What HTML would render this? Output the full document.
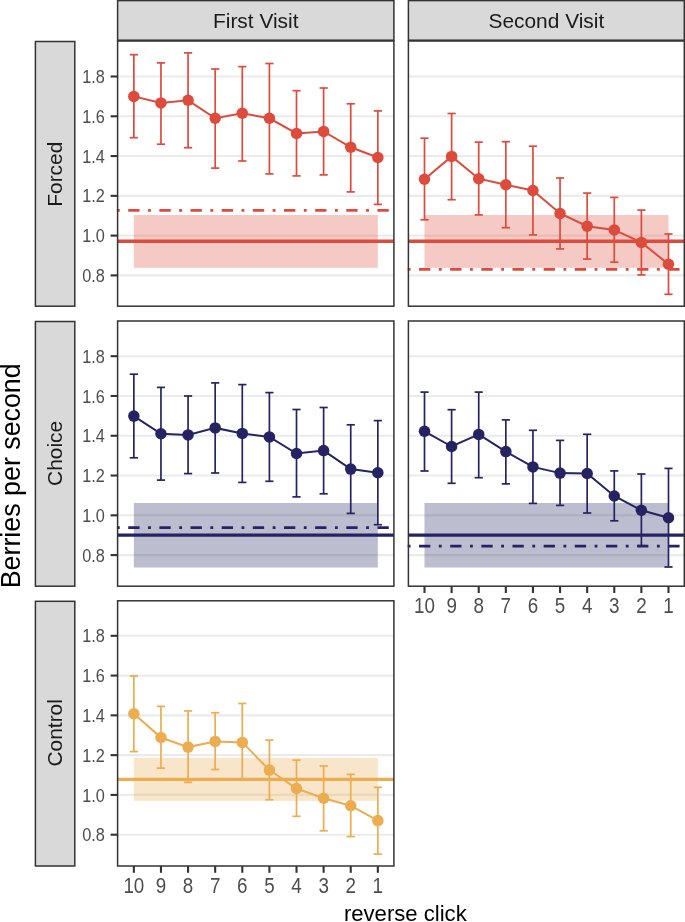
<!DOCTYPE html>
<html><head><meta charset="utf-8"><title>Berries per second</title>
<style>html,body{margin:0;padding:0;background:#fff;overflow:hidden}svg text{font-family:'Liberation Sans',sans-serif}</style>
</head><body>
<svg width="685" height="922" viewBox="0 0 685 922" style="display:block;will-change:transform">
<rect x="0" y="0" width="685" height="922" fill="#FFFFFF"/>
<rect x="117.6" y="0.6" width="276.30" height="39.60" fill="#D9D9D9" stroke="#333333" stroke-width="1.5"/>
<text x="255.75" y="27.6" text-anchor="middle" font-size="20.9" fill="#1A1A1A" style="font-family:'Liberation Sans',sans-serif">First Visit</text>
<rect x="408.4" y="0.6" width="275.90" height="39.60" fill="#D9D9D9" stroke="#333333" stroke-width="1.5"/>
<text x="546.35" y="27.6" text-anchor="middle" font-size="20.9" fill="#1A1A1A" style="font-family:'Liberation Sans',sans-serif">Second Visit</text>
<rect x="35.4" y="41.50" width="39.40" height="264.70" fill="#D9D9D9" stroke="#333333" stroke-width="1.5"/>
<text x="0" y="0" transform="translate(62.2 174.20) rotate(-90)" text-anchor="middle" font-size="20.9" fill="#1A1A1A" style="font-family:'Liberation Sans',sans-serif">Forced</text>
<rect x="117.6" y="41.0" width="276.30" height="265.20" fill="#FFFFFF"/>
<line x1="117.6" x2="393.9" y1="275.40" y2="275.40" stroke="#EBEBEB" stroke-width="2.1"/>
<line x1="117.6" x2="393.9" y1="235.62" y2="235.62" stroke="#EBEBEB" stroke-width="2.1"/>
<line x1="117.6" x2="393.9" y1="195.84" y2="195.84" stroke="#EBEBEB" stroke-width="2.1"/>
<line x1="117.6" x2="393.9" y1="156.06" y2="156.06" stroke="#EBEBEB" stroke-width="2.1"/>
<line x1="117.6" x2="393.9" y1="116.28" y2="116.28" stroke="#EBEBEB" stroke-width="2.1"/>
<line x1="117.6" x2="393.9" y1="76.50" y2="76.50" stroke="#EBEBEB" stroke-width="2.1"/>
<rect x="133.85" y="215.0" width="243.99" height="52.80" fill="#DD4B3D" fill-opacity="0.3"/>
<line x1="117.6" x2="393.9" y1="241.3" y2="241.3" stroke="#DD4B3D" stroke-width="3.4"/>
<line x1="116.89999999999999" x2="393.9" y1="210.4" y2="210.4" stroke="#DD4B3D" stroke-width="2.75" stroke-dasharray="2.832 8.496 11.328 8.496"/>
<line x1="133.85" x2="133.85" y1="54.7" y2="137.7" stroke="#DD4B3D" stroke-width="1.7"/>
<line x1="129.75" x2="137.95" y1="54.7" y2="54.7" stroke="#DD4B3D" stroke-width="1.7"/>
<line x1="129.75" x2="137.95" y1="137.7" y2="137.7" stroke="#DD4B3D" stroke-width="1.7"/>
<line x1="160.96" x2="160.96" y1="62.9" y2="144.2" stroke="#DD4B3D" stroke-width="1.7"/>
<line x1="156.86" x2="165.06" y1="62.9" y2="62.9" stroke="#DD4B3D" stroke-width="1.7"/>
<line x1="156.86" x2="165.06" y1="144.2" y2="144.2" stroke="#DD4B3D" stroke-width="1.7"/>
<line x1="188.07" x2="188.07" y1="52.9" y2="147.7" stroke="#DD4B3D" stroke-width="1.7"/>
<line x1="183.97" x2="192.17" y1="52.9" y2="52.9" stroke="#DD4B3D" stroke-width="1.7"/>
<line x1="183.97" x2="192.17" y1="147.7" y2="147.7" stroke="#DD4B3D" stroke-width="1.7"/>
<line x1="215.18" x2="215.18" y1="69.0" y2="168.1" stroke="#DD4B3D" stroke-width="1.7"/>
<line x1="211.08" x2="219.28" y1="69.0" y2="69.0" stroke="#DD4B3D" stroke-width="1.7"/>
<line x1="211.08" x2="219.28" y1="168.1" y2="168.1" stroke="#DD4B3D" stroke-width="1.7"/>
<line x1="242.29" x2="242.29" y1="66.6" y2="161.0" stroke="#DD4B3D" stroke-width="1.7"/>
<line x1="238.19" x2="246.39" y1="66.6" y2="66.6" stroke="#DD4B3D" stroke-width="1.7"/>
<line x1="238.19" x2="246.39" y1="161.0" y2="161.0" stroke="#DD4B3D" stroke-width="1.7"/>
<line x1="269.40" x2="269.40" y1="63.5" y2="173.9" stroke="#DD4B3D" stroke-width="1.7"/>
<line x1="265.30" x2="273.50" y1="63.5" y2="63.5" stroke="#DD4B3D" stroke-width="1.7"/>
<line x1="265.30" x2="273.50" y1="173.9" y2="173.9" stroke="#DD4B3D" stroke-width="1.7"/>
<line x1="296.51" x2="296.51" y1="90.7" y2="175.9" stroke="#DD4B3D" stroke-width="1.7"/>
<line x1="292.41" x2="300.61" y1="90.7" y2="90.7" stroke="#DD4B3D" stroke-width="1.7"/>
<line x1="292.41" x2="300.61" y1="175.9" y2="175.9" stroke="#DD4B3D" stroke-width="1.7"/>
<line x1="323.62" x2="323.62" y1="88.0" y2="174.9" stroke="#DD4B3D" stroke-width="1.7"/>
<line x1="319.52" x2="327.72" y1="88.0" y2="88.0" stroke="#DD4B3D" stroke-width="1.7"/>
<line x1="319.52" x2="327.72" y1="174.9" y2="174.9" stroke="#DD4B3D" stroke-width="1.7"/>
<line x1="350.73" x2="350.73" y1="103.8" y2="191.9" stroke="#DD4B3D" stroke-width="1.7"/>
<line x1="346.63" x2="354.83" y1="103.8" y2="103.8" stroke="#DD4B3D" stroke-width="1.7"/>
<line x1="346.63" x2="354.83" y1="191.9" y2="191.9" stroke="#DD4B3D" stroke-width="1.7"/>
<line x1="377.84" x2="377.84" y1="110.9" y2="204.4" stroke="#DD4B3D" stroke-width="1.7"/>
<line x1="373.74" x2="381.94" y1="110.9" y2="110.9" stroke="#DD4B3D" stroke-width="1.7"/>
<line x1="373.74" x2="381.94" y1="204.4" y2="204.4" stroke="#DD4B3D" stroke-width="1.7"/>
<polyline points="133.85,96.4 160.96,102.9 188.07,100.3 215.18,118.3 242.29,113.2 269.40,118.3 296.51,133.4 323.62,131.4 350.73,147.3 377.84,157.5" fill="none" stroke="#DD4B3D" stroke-width="2.0"/>
<circle cx="133.85" cy="96.4" r="5.75" fill="#DD4B3D"/>
<circle cx="160.96" cy="102.9" r="5.75" fill="#DD4B3D"/>
<circle cx="188.07" cy="100.3" r="5.75" fill="#DD4B3D"/>
<circle cx="215.18" cy="118.3" r="5.75" fill="#DD4B3D"/>
<circle cx="242.29" cy="113.2" r="5.75" fill="#DD4B3D"/>
<circle cx="269.40" cy="118.3" r="5.75" fill="#DD4B3D"/>
<circle cx="296.51" cy="133.4" r="5.75" fill="#DD4B3D"/>
<circle cx="323.62" cy="131.4" r="5.75" fill="#DD4B3D"/>
<circle cx="350.73" cy="147.3" r="5.75" fill="#DD4B3D"/>
<circle cx="377.84" cy="157.5" r="5.75" fill="#DD4B3D"/>
<rect x="117.6" y="41.0" width="276.30" height="265.20" fill="none" stroke="#333333" stroke-width="1.5"/>
<line x1="110.6" x2="117.6" y1="275.40" y2="275.40" stroke="#333333" stroke-width="2.1"/>
<text x="0" y="0" transform="translate(104.8 282.00) scale(1 1.10)" text-anchor="end" font-size="16.3" fill="#4D4D4D" style="font-family:'Liberation Sans',sans-serif">0.8</text>
<line x1="110.6" x2="117.6" y1="235.62" y2="235.62" stroke="#333333" stroke-width="2.1"/>
<text x="0" y="0" transform="translate(104.8 242.22) scale(1 1.10)" text-anchor="end" font-size="16.3" fill="#4D4D4D" style="font-family:'Liberation Sans',sans-serif">1.0</text>
<line x1="110.6" x2="117.6" y1="195.84" y2="195.84" stroke="#333333" stroke-width="2.1"/>
<text x="0" y="0" transform="translate(104.8 202.44) scale(1 1.10)" text-anchor="end" font-size="16.3" fill="#4D4D4D" style="font-family:'Liberation Sans',sans-serif">1.2</text>
<line x1="110.6" x2="117.6" y1="156.06" y2="156.06" stroke="#333333" stroke-width="2.1"/>
<text x="0" y="0" transform="translate(104.8 162.66) scale(1 1.10)" text-anchor="end" font-size="16.3" fill="#4D4D4D" style="font-family:'Liberation Sans',sans-serif">1.4</text>
<line x1="110.6" x2="117.6" y1="116.28" y2="116.28" stroke="#333333" stroke-width="2.1"/>
<text x="0" y="0" transform="translate(104.8 122.88) scale(1 1.10)" text-anchor="end" font-size="16.3" fill="#4D4D4D" style="font-family:'Liberation Sans',sans-serif">1.6</text>
<line x1="110.6" x2="117.6" y1="76.50" y2="76.50" stroke="#333333" stroke-width="2.1"/>
<text x="0" y="0" transform="translate(104.8 83.10) scale(1 1.10)" text-anchor="end" font-size="16.3" fill="#4D4D4D" style="font-family:'Liberation Sans',sans-serif">1.8</text>
<rect x="408.4" y="41.0" width="275.90" height="265.20" fill="#FFFFFF"/>
<line x1="408.4" x2="684.3" y1="275.40" y2="275.40" stroke="#EBEBEB" stroke-width="2.1"/>
<line x1="408.4" x2="684.3" y1="235.62" y2="235.62" stroke="#EBEBEB" stroke-width="2.1"/>
<line x1="408.4" x2="684.3" y1="195.84" y2="195.84" stroke="#EBEBEB" stroke-width="2.1"/>
<line x1="408.4" x2="684.3" y1="156.06" y2="156.06" stroke="#EBEBEB" stroke-width="2.1"/>
<line x1="408.4" x2="684.3" y1="116.28" y2="116.28" stroke="#EBEBEB" stroke-width="2.1"/>
<line x1="408.4" x2="684.3" y1="76.50" y2="76.50" stroke="#EBEBEB" stroke-width="2.1"/>
<rect x="424.50" y="215.0" width="243.99" height="52.80" fill="#DD4B3D" fill-opacity="0.3"/>
<line x1="408.4" x2="684.3" y1="241.3" y2="241.3" stroke="#DD4B3D" stroke-width="3.4"/>
<line x1="407.7" x2="684.3" y1="269.45" y2="269.45" stroke="#DD4B3D" stroke-width="2.75" stroke-dasharray="2.832 8.496 11.328 8.496"/>
<line x1="424.50" x2="424.50" y1="138.2" y2="219.8" stroke="#DD4B3D" stroke-width="1.7"/>
<line x1="420.40" x2="428.60" y1="138.2" y2="138.2" stroke="#DD4B3D" stroke-width="1.7"/>
<line x1="420.40" x2="428.60" y1="219.8" y2="219.8" stroke="#DD4B3D" stroke-width="1.7"/>
<line x1="451.61" x2="451.61" y1="113.5" y2="199.7" stroke="#DD4B3D" stroke-width="1.7"/>
<line x1="447.51" x2="455.71" y1="113.5" y2="113.5" stroke="#DD4B3D" stroke-width="1.7"/>
<line x1="447.51" x2="455.71" y1="199.7" y2="199.7" stroke="#DD4B3D" stroke-width="1.7"/>
<line x1="478.72" x2="478.72" y1="142.1" y2="214.9" stroke="#DD4B3D" stroke-width="1.7"/>
<line x1="474.62" x2="482.82" y1="142.1" y2="142.1" stroke="#DD4B3D" stroke-width="1.7"/>
<line x1="474.62" x2="482.82" y1="214.9" y2="214.9" stroke="#DD4B3D" stroke-width="1.7"/>
<line x1="505.83" x2="505.83" y1="141.7" y2="227.7" stroke="#DD4B3D" stroke-width="1.7"/>
<line x1="501.73" x2="509.93" y1="141.7" y2="141.7" stroke="#DD4B3D" stroke-width="1.7"/>
<line x1="501.73" x2="509.93" y1="227.7" y2="227.7" stroke="#DD4B3D" stroke-width="1.7"/>
<line x1="532.94" x2="532.94" y1="146.2" y2="234.9" stroke="#DD4B3D" stroke-width="1.7"/>
<line x1="528.84" x2="537.04" y1="146.2" y2="146.2" stroke="#DD4B3D" stroke-width="1.7"/>
<line x1="528.84" x2="537.04" y1="234.9" y2="234.9" stroke="#DD4B3D" stroke-width="1.7"/>
<line x1="560.05" x2="560.05" y1="178.0" y2="248.9" stroke="#DD4B3D" stroke-width="1.7"/>
<line x1="555.95" x2="564.15" y1="178.0" y2="178.0" stroke="#DD4B3D" stroke-width="1.7"/>
<line x1="555.95" x2="564.15" y1="248.9" y2="248.9" stroke="#DD4B3D" stroke-width="1.7"/>
<line x1="587.16" x2="587.16" y1="193.1" y2="259.1" stroke="#DD4B3D" stroke-width="1.7"/>
<line x1="583.06" x2="591.26" y1="193.1" y2="193.1" stroke="#DD4B3D" stroke-width="1.7"/>
<line x1="583.06" x2="591.26" y1="259.1" y2="259.1" stroke="#DD4B3D" stroke-width="1.7"/>
<line x1="614.27" x2="614.27" y1="197.4" y2="262.2" stroke="#DD4B3D" stroke-width="1.7"/>
<line x1="610.17" x2="618.37" y1="197.4" y2="197.4" stroke="#DD4B3D" stroke-width="1.7"/>
<line x1="610.17" x2="618.37" y1="262.2" y2="262.2" stroke="#DD4B3D" stroke-width="1.7"/>
<line x1="641.38" x2="641.38" y1="210.1" y2="274.9" stroke="#DD4B3D" stroke-width="1.7"/>
<line x1="637.28" x2="645.48" y1="210.1" y2="210.1" stroke="#DD4B3D" stroke-width="1.7"/>
<line x1="637.28" x2="645.48" y1="274.9" y2="274.9" stroke="#DD4B3D" stroke-width="1.7"/>
<line x1="668.49" x2="668.49" y1="234.0" y2="294.3" stroke="#DD4B3D" stroke-width="1.7"/>
<line x1="664.39" x2="672.59" y1="234.0" y2="234.0" stroke="#DD4B3D" stroke-width="1.7"/>
<line x1="664.39" x2="672.59" y1="294.3" y2="294.3" stroke="#DD4B3D" stroke-width="1.7"/>
<polyline points="424.50,179.3 451.61,156.4 478.72,178.7 505.83,184.8 532.94,190.5 560.05,213.5 587.16,226.2 614.27,229.9 641.38,242.4 668.49,264.2" fill="none" stroke="#DD4B3D" stroke-width="2.0"/>
<circle cx="424.50" cy="179.3" r="5.75" fill="#DD4B3D"/>
<circle cx="451.61" cy="156.4" r="5.75" fill="#DD4B3D"/>
<circle cx="478.72" cy="178.7" r="5.75" fill="#DD4B3D"/>
<circle cx="505.83" cy="184.8" r="5.75" fill="#DD4B3D"/>
<circle cx="532.94" cy="190.5" r="5.75" fill="#DD4B3D"/>
<circle cx="560.05" cy="213.5" r="5.75" fill="#DD4B3D"/>
<circle cx="587.16" cy="226.2" r="5.75" fill="#DD4B3D"/>
<circle cx="614.27" cy="229.9" r="5.75" fill="#DD4B3D"/>
<circle cx="641.38" cy="242.4" r="5.75" fill="#DD4B3D"/>
<circle cx="668.49" cy="264.2" r="5.75" fill="#DD4B3D"/>
<rect x="408.4" y="41.0" width="275.90" height="265.20" fill="none" stroke="#333333" stroke-width="1.5"/>
<rect x="35.4" y="321.50" width="39.40" height="264.70" fill="#D9D9D9" stroke="#333333" stroke-width="1.5"/>
<text x="0" y="0" transform="translate(62.2 453.40) rotate(-90)" text-anchor="middle" font-size="20.9" fill="#1A1A1A" style="font-family:'Liberation Sans',sans-serif">Choice</text>
<rect x="117.6" y="321.0" width="276.30" height="265.20" fill="#FFFFFF"/>
<line x1="117.6" x2="393.9" y1="555.10" y2="555.10" stroke="#EBEBEB" stroke-width="2.1"/>
<line x1="117.6" x2="393.9" y1="515.32" y2="515.32" stroke="#EBEBEB" stroke-width="2.1"/>
<line x1="117.6" x2="393.9" y1="475.54" y2="475.54" stroke="#EBEBEB" stroke-width="2.1"/>
<line x1="117.6" x2="393.9" y1="435.76" y2="435.76" stroke="#EBEBEB" stroke-width="2.1"/>
<line x1="117.6" x2="393.9" y1="395.98" y2="395.98" stroke="#EBEBEB" stroke-width="2.1"/>
<line x1="117.6" x2="393.9" y1="356.20" y2="356.20" stroke="#EBEBEB" stroke-width="2.1"/>
<rect x="133.85" y="503.0" width="243.99" height="64.50" fill="#262363" fill-opacity="0.3"/>
<line x1="117.6" x2="393.9" y1="535.1" y2="535.1" stroke="#262363" stroke-width="3.4"/>
<line x1="116.89999999999999" x2="393.9" y1="527.7" y2="527.7" stroke="#262363" stroke-width="2.75" stroke-dasharray="2.832 8.496 11.328 8.496"/>
<line x1="133.85" x2="133.85" y1="374.2" y2="457.8" stroke="#262363" stroke-width="1.7"/>
<line x1="129.75" x2="137.95" y1="374.2" y2="374.2" stroke="#262363" stroke-width="1.7"/>
<line x1="129.75" x2="137.95" y1="457.8" y2="457.8" stroke="#262363" stroke-width="1.7"/>
<line x1="160.96" x2="160.96" y1="387.4" y2="480.1" stroke="#262363" stroke-width="1.7"/>
<line x1="156.86" x2="165.06" y1="387.4" y2="387.4" stroke="#262363" stroke-width="1.7"/>
<line x1="156.86" x2="165.06" y1="480.1" y2="480.1" stroke="#262363" stroke-width="1.7"/>
<line x1="188.07" x2="188.07" y1="396.0" y2="473.6" stroke="#262363" stroke-width="1.7"/>
<line x1="183.97" x2="192.17" y1="396.0" y2="396.0" stroke="#262363" stroke-width="1.7"/>
<line x1="183.97" x2="192.17" y1="473.6" y2="473.6" stroke="#262363" stroke-width="1.7"/>
<line x1="215.18" x2="215.18" y1="382.9" y2="473.0" stroke="#262363" stroke-width="1.7"/>
<line x1="211.08" x2="219.28" y1="382.9" y2="382.9" stroke="#262363" stroke-width="1.7"/>
<line x1="211.08" x2="219.28" y1="473.0" y2="473.0" stroke="#262363" stroke-width="1.7"/>
<line x1="242.29" x2="242.29" y1="384.6" y2="482.4" stroke="#262363" stroke-width="1.7"/>
<line x1="238.19" x2="246.39" y1="384.6" y2="384.6" stroke="#262363" stroke-width="1.7"/>
<line x1="238.19" x2="246.39" y1="482.4" y2="482.4" stroke="#262363" stroke-width="1.7"/>
<line x1="269.40" x2="269.40" y1="392.6" y2="481.3" stroke="#262363" stroke-width="1.7"/>
<line x1="265.30" x2="273.50" y1="392.6" y2="392.6" stroke="#262363" stroke-width="1.7"/>
<line x1="265.30" x2="273.50" y1="481.3" y2="481.3" stroke="#262363" stroke-width="1.7"/>
<line x1="296.51" x2="296.51" y1="409.5" y2="496.9" stroke="#262363" stroke-width="1.7"/>
<line x1="292.41" x2="300.61" y1="409.5" y2="409.5" stroke="#262363" stroke-width="1.7"/>
<line x1="292.41" x2="300.61" y1="496.9" y2="496.9" stroke="#262363" stroke-width="1.7"/>
<line x1="323.62" x2="323.62" y1="407.5" y2="493.8" stroke="#262363" stroke-width="1.7"/>
<line x1="319.52" x2="327.72" y1="407.5" y2="407.5" stroke="#262363" stroke-width="1.7"/>
<line x1="319.52" x2="327.72" y1="493.8" y2="493.8" stroke="#262363" stroke-width="1.7"/>
<line x1="350.73" x2="350.73" y1="424.8" y2="513.4" stroke="#262363" stroke-width="1.7"/>
<line x1="346.63" x2="354.83" y1="424.8" y2="424.8" stroke="#262363" stroke-width="1.7"/>
<line x1="346.63" x2="354.83" y1="513.4" y2="513.4" stroke="#262363" stroke-width="1.7"/>
<line x1="377.84" x2="377.84" y1="420.6" y2="524.7" stroke="#262363" stroke-width="1.7"/>
<line x1="373.74" x2="381.94" y1="420.6" y2="420.6" stroke="#262363" stroke-width="1.7"/>
<line x1="373.74" x2="381.94" y1="524.7" y2="524.7" stroke="#262363" stroke-width="1.7"/>
<polyline points="133.85,416.1 160.96,433.8 188.07,434.9 215.18,427.9 242.29,433.4 269.40,436.9 296.51,453.5 323.62,450.6 350.73,469.1 377.84,472.8" fill="none" stroke="#262363" stroke-width="2.0"/>
<circle cx="133.85" cy="416.1" r="5.75" fill="#262363"/>
<circle cx="160.96" cy="433.8" r="5.75" fill="#262363"/>
<circle cx="188.07" cy="434.9" r="5.75" fill="#262363"/>
<circle cx="215.18" cy="427.9" r="5.75" fill="#262363"/>
<circle cx="242.29" cy="433.4" r="5.75" fill="#262363"/>
<circle cx="269.40" cy="436.9" r="5.75" fill="#262363"/>
<circle cx="296.51" cy="453.5" r="5.75" fill="#262363"/>
<circle cx="323.62" cy="450.6" r="5.75" fill="#262363"/>
<circle cx="350.73" cy="469.1" r="5.75" fill="#262363"/>
<circle cx="377.84" cy="472.8" r="5.75" fill="#262363"/>
<rect x="117.6" y="321.0" width="276.30" height="265.20" fill="none" stroke="#333333" stroke-width="1.5"/>
<line x1="110.6" x2="117.6" y1="555.10" y2="555.10" stroke="#333333" stroke-width="2.1"/>
<text x="0" y="0" transform="translate(104.8 561.70) scale(1 1.10)" text-anchor="end" font-size="16.3" fill="#4D4D4D" style="font-family:'Liberation Sans',sans-serif">0.8</text>
<line x1="110.6" x2="117.6" y1="515.32" y2="515.32" stroke="#333333" stroke-width="2.1"/>
<text x="0" y="0" transform="translate(104.8 521.92) scale(1 1.10)" text-anchor="end" font-size="16.3" fill="#4D4D4D" style="font-family:'Liberation Sans',sans-serif">1.0</text>
<line x1="110.6" x2="117.6" y1="475.54" y2="475.54" stroke="#333333" stroke-width="2.1"/>
<text x="0" y="0" transform="translate(104.8 482.14) scale(1 1.10)" text-anchor="end" font-size="16.3" fill="#4D4D4D" style="font-family:'Liberation Sans',sans-serif">1.2</text>
<line x1="110.6" x2="117.6" y1="435.76" y2="435.76" stroke="#333333" stroke-width="2.1"/>
<text x="0" y="0" transform="translate(104.8 442.36) scale(1 1.10)" text-anchor="end" font-size="16.3" fill="#4D4D4D" style="font-family:'Liberation Sans',sans-serif">1.4</text>
<line x1="110.6" x2="117.6" y1="395.98" y2="395.98" stroke="#333333" stroke-width="2.1"/>
<text x="0" y="0" transform="translate(104.8 402.58) scale(1 1.10)" text-anchor="end" font-size="16.3" fill="#4D4D4D" style="font-family:'Liberation Sans',sans-serif">1.6</text>
<line x1="110.6" x2="117.6" y1="356.20" y2="356.20" stroke="#333333" stroke-width="2.1"/>
<text x="0" y="0" transform="translate(104.8 362.80) scale(1 1.10)" text-anchor="end" font-size="16.3" fill="#4D4D4D" style="font-family:'Liberation Sans',sans-serif">1.8</text>
<rect x="408.4" y="321.0" width="275.90" height="265.20" fill="#FFFFFF"/>
<line x1="408.4" x2="684.3" y1="555.10" y2="555.10" stroke="#EBEBEB" stroke-width="2.1"/>
<line x1="408.4" x2="684.3" y1="515.32" y2="515.32" stroke="#EBEBEB" stroke-width="2.1"/>
<line x1="408.4" x2="684.3" y1="475.54" y2="475.54" stroke="#EBEBEB" stroke-width="2.1"/>
<line x1="408.4" x2="684.3" y1="435.76" y2="435.76" stroke="#EBEBEB" stroke-width="2.1"/>
<line x1="408.4" x2="684.3" y1="395.98" y2="395.98" stroke="#EBEBEB" stroke-width="2.1"/>
<line x1="408.4" x2="684.3" y1="356.20" y2="356.20" stroke="#EBEBEB" stroke-width="2.1"/>
<rect x="424.50" y="503.0" width="243.99" height="64.50" fill="#262363" fill-opacity="0.3"/>
<line x1="408.4" x2="684.3" y1="535.1" y2="535.1" stroke="#262363" stroke-width="3.4"/>
<line x1="407.7" x2="684.3" y1="546.1" y2="546.1" stroke="#262363" stroke-width="2.75" stroke-dasharray="2.832 8.496 11.328 8.496"/>
<line x1="424.50" x2="424.50" y1="392.1" y2="471.0" stroke="#262363" stroke-width="1.7"/>
<line x1="420.40" x2="428.60" y1="392.1" y2="392.1" stroke="#262363" stroke-width="1.7"/>
<line x1="420.40" x2="428.60" y1="471.0" y2="471.0" stroke="#262363" stroke-width="1.7"/>
<line x1="451.61" x2="451.61" y1="409.7" y2="483.3" stroke="#262363" stroke-width="1.7"/>
<line x1="447.51" x2="455.71" y1="409.7" y2="409.7" stroke="#262363" stroke-width="1.7"/>
<line x1="447.51" x2="455.71" y1="483.3" y2="483.3" stroke="#262363" stroke-width="1.7"/>
<line x1="478.72" x2="478.72" y1="392.1" y2="477.7" stroke="#262363" stroke-width="1.7"/>
<line x1="474.62" x2="482.82" y1="392.1" y2="392.1" stroke="#262363" stroke-width="1.7"/>
<line x1="474.62" x2="482.82" y1="477.7" y2="477.7" stroke="#262363" stroke-width="1.7"/>
<line x1="505.83" x2="505.83" y1="419.9" y2="483.9" stroke="#262363" stroke-width="1.7"/>
<line x1="501.73" x2="509.93" y1="419.9" y2="419.9" stroke="#262363" stroke-width="1.7"/>
<line x1="501.73" x2="509.93" y1="483.9" y2="483.9" stroke="#262363" stroke-width="1.7"/>
<line x1="532.94" x2="532.94" y1="430.3" y2="503.4" stroke="#262363" stroke-width="1.7"/>
<line x1="528.84" x2="537.04" y1="430.3" y2="430.3" stroke="#262363" stroke-width="1.7"/>
<line x1="528.84" x2="537.04" y1="503.4" y2="503.4" stroke="#262363" stroke-width="1.7"/>
<line x1="560.05" x2="560.05" y1="440.4" y2="505.4" stroke="#262363" stroke-width="1.7"/>
<line x1="555.95" x2="564.15" y1="440.4" y2="440.4" stroke="#262363" stroke-width="1.7"/>
<line x1="555.95" x2="564.15" y1="505.4" y2="505.4" stroke="#262363" stroke-width="1.7"/>
<line x1="587.16" x2="587.16" y1="434.3" y2="513.0" stroke="#262363" stroke-width="1.7"/>
<line x1="583.06" x2="591.26" y1="434.3" y2="434.3" stroke="#262363" stroke-width="1.7"/>
<line x1="583.06" x2="591.26" y1="513.0" y2="513.0" stroke="#262363" stroke-width="1.7"/>
<line x1="614.27" x2="614.27" y1="470.9" y2="520.8" stroke="#262363" stroke-width="1.7"/>
<line x1="610.17" x2="618.37" y1="470.9" y2="470.9" stroke="#262363" stroke-width="1.7"/>
<line x1="610.17" x2="618.37" y1="520.8" y2="520.8" stroke="#262363" stroke-width="1.7"/>
<line x1="641.38" x2="641.38" y1="474.0" y2="545.7" stroke="#262363" stroke-width="1.7"/>
<line x1="637.28" x2="645.48" y1="474.0" y2="474.0" stroke="#262363" stroke-width="1.7"/>
<line x1="637.28" x2="645.48" y1="545.7" y2="545.7" stroke="#262363" stroke-width="1.7"/>
<line x1="668.49" x2="668.49" y1="468.4" y2="567.0" stroke="#262363" stroke-width="1.7"/>
<line x1="664.39" x2="672.59" y1="468.4" y2="468.4" stroke="#262363" stroke-width="1.7"/>
<line x1="664.39" x2="672.59" y1="567.0" y2="567.0" stroke="#262363" stroke-width="1.7"/>
<polyline points="424.50,431.3 451.61,446.5 478.72,434.4 505.83,451.6 532.94,466.9 560.05,473.1 587.16,473.5 614.27,496.0 641.38,510.3 668.49,517.7" fill="none" stroke="#262363" stroke-width="2.0"/>
<circle cx="424.50" cy="431.3" r="5.75" fill="#262363"/>
<circle cx="451.61" cy="446.5" r="5.75" fill="#262363"/>
<circle cx="478.72" cy="434.4" r="5.75" fill="#262363"/>
<circle cx="505.83" cy="451.6" r="5.75" fill="#262363"/>
<circle cx="532.94" cy="466.9" r="5.75" fill="#262363"/>
<circle cx="560.05" cy="473.1" r="5.75" fill="#262363"/>
<circle cx="587.16" cy="473.5" r="5.75" fill="#262363"/>
<circle cx="614.27" cy="496.0" r="5.75" fill="#262363"/>
<circle cx="641.38" cy="510.3" r="5.75" fill="#262363"/>
<circle cx="668.49" cy="517.7" r="5.75" fill="#262363"/>
<rect x="408.4" y="321.0" width="275.90" height="265.20" fill="none" stroke="#333333" stroke-width="1.5"/>
<line x1="424.50" x2="424.50" y1="586.2" y2="593.00" stroke="#333333" stroke-width="2.1"/>
<text x="0" y="0" transform="translate(424.50 613.00) scale(1 1.16)" text-anchor="middle" font-size="18.8" fill="#4D4D4D" style="font-family:'Liberation Sans',sans-serif">10</text>
<line x1="451.61" x2="451.61" y1="586.2" y2="593.00" stroke="#333333" stroke-width="2.1"/>
<text x="0" y="0" transform="translate(451.61 613.00) scale(1 1.16)" text-anchor="middle" font-size="18.8" fill="#4D4D4D" style="font-family:'Liberation Sans',sans-serif">9</text>
<line x1="478.72" x2="478.72" y1="586.2" y2="593.00" stroke="#333333" stroke-width="2.1"/>
<text x="0" y="0" transform="translate(478.72 613.00) scale(1 1.16)" text-anchor="middle" font-size="18.8" fill="#4D4D4D" style="font-family:'Liberation Sans',sans-serif">8</text>
<line x1="505.83" x2="505.83" y1="586.2" y2="593.00" stroke="#333333" stroke-width="2.1"/>
<text x="0" y="0" transform="translate(505.83 613.00) scale(1 1.16)" text-anchor="middle" font-size="18.8" fill="#4D4D4D" style="font-family:'Liberation Sans',sans-serif">7</text>
<line x1="532.94" x2="532.94" y1="586.2" y2="593.00" stroke="#333333" stroke-width="2.1"/>
<text x="0" y="0" transform="translate(532.94 613.00) scale(1 1.16)" text-anchor="middle" font-size="18.8" fill="#4D4D4D" style="font-family:'Liberation Sans',sans-serif">6</text>
<line x1="560.05" x2="560.05" y1="586.2" y2="593.00" stroke="#333333" stroke-width="2.1"/>
<text x="0" y="0" transform="translate(560.05 613.00) scale(1 1.16)" text-anchor="middle" font-size="18.8" fill="#4D4D4D" style="font-family:'Liberation Sans',sans-serif">5</text>
<line x1="587.16" x2="587.16" y1="586.2" y2="593.00" stroke="#333333" stroke-width="2.1"/>
<text x="0" y="0" transform="translate(587.16 613.00) scale(1 1.16)" text-anchor="middle" font-size="18.8" fill="#4D4D4D" style="font-family:'Liberation Sans',sans-serif">4</text>
<line x1="614.27" x2="614.27" y1="586.2" y2="593.00" stroke="#333333" stroke-width="2.1"/>
<text x="0" y="0" transform="translate(614.27 613.00) scale(1 1.16)" text-anchor="middle" font-size="18.8" fill="#4D4D4D" style="font-family:'Liberation Sans',sans-serif">3</text>
<line x1="641.38" x2="641.38" y1="586.2" y2="593.00" stroke="#333333" stroke-width="2.1"/>
<text x="0" y="0" transform="translate(641.38 613.00) scale(1 1.16)" text-anchor="middle" font-size="18.8" fill="#4D4D4D" style="font-family:'Liberation Sans',sans-serif">2</text>
<line x1="668.49" x2="668.49" y1="586.2" y2="593.00" stroke="#333333" stroke-width="2.1"/>
<text x="0" y="0" transform="translate(668.49 613.00) scale(1 1.16)" text-anchor="middle" font-size="18.8" fill="#4D4D4D" style="font-family:'Liberation Sans',sans-serif">1</text>
<rect x="35.4" y="601.30" width="39.40" height="264.70" fill="#D9D9D9" stroke="#333333" stroke-width="1.5"/>
<text x="0" y="0" transform="translate(62.2 732.80) rotate(-90)" text-anchor="middle" font-size="20.9" fill="#1A1A1A" style="font-family:'Liberation Sans',sans-serif">Control</text>
<rect x="117.6" y="600.8" width="276.30" height="265.20" fill="#FFFFFF"/>
<line x1="117.6" x2="393.9" y1="834.70" y2="834.70" stroke="#EBEBEB" stroke-width="2.1"/>
<line x1="117.6" x2="393.9" y1="794.92" y2="794.92" stroke="#EBEBEB" stroke-width="2.1"/>
<line x1="117.6" x2="393.9" y1="755.14" y2="755.14" stroke="#EBEBEB" stroke-width="2.1"/>
<line x1="117.6" x2="393.9" y1="715.36" y2="715.36" stroke="#EBEBEB" stroke-width="2.1"/>
<line x1="117.6" x2="393.9" y1="675.58" y2="675.58" stroke="#EBEBEB" stroke-width="2.1"/>
<line x1="117.6" x2="393.9" y1="635.80" y2="635.80" stroke="#EBEBEB" stroke-width="2.1"/>
<rect x="133.85" y="757.9" width="243.99" height="43.00" fill="#ECAC50" fill-opacity="0.3"/>
<line x1="117.6" x2="393.9" y1="779.4" y2="779.4" stroke="#ECAC50" stroke-width="3.4"/>
<line x1="133.85" x2="133.85" y1="676.0" y2="751.6" stroke="#ECAC50" stroke-width="1.7"/>
<line x1="129.75" x2="137.95" y1="676.0" y2="676.0" stroke="#ECAC50" stroke-width="1.7"/>
<line x1="129.75" x2="137.95" y1="751.6" y2="751.6" stroke="#ECAC50" stroke-width="1.7"/>
<line x1="160.96" x2="160.96" y1="706.4" y2="768.1" stroke="#ECAC50" stroke-width="1.7"/>
<line x1="156.86" x2="165.06" y1="706.4" y2="706.4" stroke="#ECAC50" stroke-width="1.7"/>
<line x1="156.86" x2="165.06" y1="768.1" y2="768.1" stroke="#ECAC50" stroke-width="1.7"/>
<line x1="188.07" x2="188.07" y1="710.9" y2="782.4" stroke="#ECAC50" stroke-width="1.7"/>
<line x1="183.97" x2="192.17" y1="710.9" y2="710.9" stroke="#ECAC50" stroke-width="1.7"/>
<line x1="183.97" x2="192.17" y1="782.4" y2="782.4" stroke="#ECAC50" stroke-width="1.7"/>
<line x1="215.18" x2="215.18" y1="712.7" y2="769.5" stroke="#ECAC50" stroke-width="1.7"/>
<line x1="211.08" x2="219.28" y1="712.7" y2="712.7" stroke="#ECAC50" stroke-width="1.7"/>
<line x1="211.08" x2="219.28" y1="769.5" y2="769.5" stroke="#ECAC50" stroke-width="1.7"/>
<line x1="242.29" x2="242.29" y1="703.5" y2="779.5" stroke="#ECAC50" stroke-width="1.7"/>
<line x1="238.19" x2="246.39" y1="703.5" y2="703.5" stroke="#ECAC50" stroke-width="1.7"/>
<line x1="238.19" x2="246.39" y1="779.5" y2="779.5" stroke="#ECAC50" stroke-width="1.7"/>
<line x1="269.40" x2="269.40" y1="740.1" y2="799.7" stroke="#ECAC50" stroke-width="1.7"/>
<line x1="265.30" x2="273.50" y1="740.1" y2="740.1" stroke="#ECAC50" stroke-width="1.7"/>
<line x1="265.30" x2="273.50" y1="799.7" y2="799.7" stroke="#ECAC50" stroke-width="1.7"/>
<line x1="296.51" x2="296.51" y1="760.1" y2="816.3" stroke="#ECAC50" stroke-width="1.7"/>
<line x1="292.41" x2="300.61" y1="760.1" y2="760.1" stroke="#ECAC50" stroke-width="1.7"/>
<line x1="292.41" x2="300.61" y1="816.3" y2="816.3" stroke="#ECAC50" stroke-width="1.7"/>
<line x1="323.62" x2="323.62" y1="766.0" y2="830.8" stroke="#ECAC50" stroke-width="1.7"/>
<line x1="319.52" x2="327.72" y1="766.0" y2="766.0" stroke="#ECAC50" stroke-width="1.7"/>
<line x1="319.52" x2="327.72" y1="830.8" y2="830.8" stroke="#ECAC50" stroke-width="1.7"/>
<line x1="350.73" x2="350.73" y1="774.4" y2="836.6" stroke="#ECAC50" stroke-width="1.7"/>
<line x1="346.63" x2="354.83" y1="774.4" y2="774.4" stroke="#ECAC50" stroke-width="1.7"/>
<line x1="346.63" x2="354.83" y1="836.6" y2="836.6" stroke="#ECAC50" stroke-width="1.7"/>
<line x1="377.84" x2="377.84" y1="787.3" y2="854.1" stroke="#ECAC50" stroke-width="1.7"/>
<line x1="373.74" x2="381.94" y1="787.3" y2="787.3" stroke="#ECAC50" stroke-width="1.7"/>
<line x1="373.74" x2="381.94" y1="854.1" y2="854.1" stroke="#ECAC50" stroke-width="1.7"/>
<polyline points="133.85,713.8 160.96,737.5 188.07,747.1 215.18,741.4 242.29,742.4 269.40,770.1 296.51,788.5 323.62,798.3 350.73,805.7 377.84,820.6" fill="none" stroke="#ECAC50" stroke-width="2.0"/>
<circle cx="133.85" cy="713.8" r="5.75" fill="#ECAC50"/>
<circle cx="160.96" cy="737.5" r="5.75" fill="#ECAC50"/>
<circle cx="188.07" cy="747.1" r="5.75" fill="#ECAC50"/>
<circle cx="215.18" cy="741.4" r="5.75" fill="#ECAC50"/>
<circle cx="242.29" cy="742.4" r="5.75" fill="#ECAC50"/>
<circle cx="269.40" cy="770.1" r="5.75" fill="#ECAC50"/>
<circle cx="296.51" cy="788.5" r="5.75" fill="#ECAC50"/>
<circle cx="323.62" cy="798.3" r="5.75" fill="#ECAC50"/>
<circle cx="350.73" cy="805.7" r="5.75" fill="#ECAC50"/>
<circle cx="377.84" cy="820.6" r="5.75" fill="#ECAC50"/>
<rect x="117.6" y="600.8" width="276.30" height="265.20" fill="none" stroke="#333333" stroke-width="1.5"/>
<line x1="110.6" x2="117.6" y1="834.70" y2="834.70" stroke="#333333" stroke-width="2.1"/>
<text x="0" y="0" transform="translate(104.8 841.30) scale(1 1.10)" text-anchor="end" font-size="16.3" fill="#4D4D4D" style="font-family:'Liberation Sans',sans-serif">0.8</text>
<line x1="110.6" x2="117.6" y1="794.92" y2="794.92" stroke="#333333" stroke-width="2.1"/>
<text x="0" y="0" transform="translate(104.8 801.52) scale(1 1.10)" text-anchor="end" font-size="16.3" fill="#4D4D4D" style="font-family:'Liberation Sans',sans-serif">1.0</text>
<line x1="110.6" x2="117.6" y1="755.14" y2="755.14" stroke="#333333" stroke-width="2.1"/>
<text x="0" y="0" transform="translate(104.8 761.74) scale(1 1.10)" text-anchor="end" font-size="16.3" fill="#4D4D4D" style="font-family:'Liberation Sans',sans-serif">1.2</text>
<line x1="110.6" x2="117.6" y1="715.36" y2="715.36" stroke="#333333" stroke-width="2.1"/>
<text x="0" y="0" transform="translate(104.8 721.96) scale(1 1.10)" text-anchor="end" font-size="16.3" fill="#4D4D4D" style="font-family:'Liberation Sans',sans-serif">1.4</text>
<line x1="110.6" x2="117.6" y1="675.58" y2="675.58" stroke="#333333" stroke-width="2.1"/>
<text x="0" y="0" transform="translate(104.8 682.18) scale(1 1.10)" text-anchor="end" font-size="16.3" fill="#4D4D4D" style="font-family:'Liberation Sans',sans-serif">1.6</text>
<line x1="110.6" x2="117.6" y1="635.80" y2="635.80" stroke="#333333" stroke-width="2.1"/>
<text x="0" y="0" transform="translate(104.8 642.40) scale(1 1.10)" text-anchor="end" font-size="16.3" fill="#4D4D4D" style="font-family:'Liberation Sans',sans-serif">1.8</text>
<line x1="133.85" x2="133.85" y1="866.0" y2="872.80" stroke="#333333" stroke-width="2.1"/>
<text x="0" y="0" transform="translate(133.85 892.80) scale(1 1.16)" text-anchor="middle" font-size="18.8" fill="#4D4D4D" style="font-family:'Liberation Sans',sans-serif">10</text>
<line x1="160.96" x2="160.96" y1="866.0" y2="872.80" stroke="#333333" stroke-width="2.1"/>
<text x="0" y="0" transform="translate(160.96 892.80) scale(1 1.16)" text-anchor="middle" font-size="18.8" fill="#4D4D4D" style="font-family:'Liberation Sans',sans-serif">9</text>
<line x1="188.07" x2="188.07" y1="866.0" y2="872.80" stroke="#333333" stroke-width="2.1"/>
<text x="0" y="0" transform="translate(188.07 892.80) scale(1 1.16)" text-anchor="middle" font-size="18.8" fill="#4D4D4D" style="font-family:'Liberation Sans',sans-serif">8</text>
<line x1="215.18" x2="215.18" y1="866.0" y2="872.80" stroke="#333333" stroke-width="2.1"/>
<text x="0" y="0" transform="translate(215.18 892.80) scale(1 1.16)" text-anchor="middle" font-size="18.8" fill="#4D4D4D" style="font-family:'Liberation Sans',sans-serif">7</text>
<line x1="242.29" x2="242.29" y1="866.0" y2="872.80" stroke="#333333" stroke-width="2.1"/>
<text x="0" y="0" transform="translate(242.29 892.80) scale(1 1.16)" text-anchor="middle" font-size="18.8" fill="#4D4D4D" style="font-family:'Liberation Sans',sans-serif">6</text>
<line x1="269.40" x2="269.40" y1="866.0" y2="872.80" stroke="#333333" stroke-width="2.1"/>
<text x="0" y="0" transform="translate(269.40 892.80) scale(1 1.16)" text-anchor="middle" font-size="18.8" fill="#4D4D4D" style="font-family:'Liberation Sans',sans-serif">5</text>
<line x1="296.51" x2="296.51" y1="866.0" y2="872.80" stroke="#333333" stroke-width="2.1"/>
<text x="0" y="0" transform="translate(296.51 892.80) scale(1 1.16)" text-anchor="middle" font-size="18.8" fill="#4D4D4D" style="font-family:'Liberation Sans',sans-serif">4</text>
<line x1="323.62" x2="323.62" y1="866.0" y2="872.80" stroke="#333333" stroke-width="2.1"/>
<text x="0" y="0" transform="translate(323.62 892.80) scale(1 1.16)" text-anchor="middle" font-size="18.8" fill="#4D4D4D" style="font-family:'Liberation Sans',sans-serif">3</text>
<line x1="350.73" x2="350.73" y1="866.0" y2="872.80" stroke="#333333" stroke-width="2.1"/>
<text x="0" y="0" transform="translate(350.73 892.80) scale(1 1.16)" text-anchor="middle" font-size="18.8" fill="#4D4D4D" style="font-family:'Liberation Sans',sans-serif">2</text>
<line x1="377.84" x2="377.84" y1="866.0" y2="872.80" stroke="#333333" stroke-width="2.1"/>
<text x="0" y="0" transform="translate(377.84 892.80) scale(1 1.16)" text-anchor="middle" font-size="18.8" fill="#4D4D4D" style="font-family:'Liberation Sans',sans-serif">1</text>
<text x="0" y="0" transform="translate(19.9 475.8) rotate(-90)" text-anchor="middle" font-size="26.8" fill="#000000" style="font-family:'Liberation Sans',sans-serif">Berries per second</text>
<text x="405.3" y="920.9" text-anchor="middle" font-size="22.1" fill="#000000" style="font-family:'Liberation Sans',sans-serif">reverse click</text>
</svg>
</body></html>
